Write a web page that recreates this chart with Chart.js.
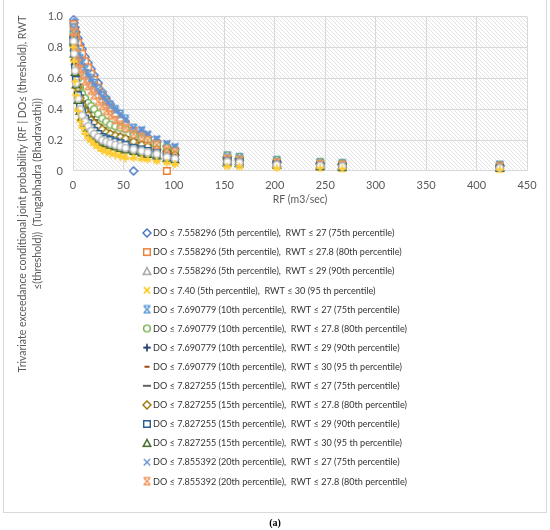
<!DOCTYPE html>
<html lang="en">
<head>
<meta charset="UTF-8">
<title>Trivariate exceedance conditional joint probability - Tungabhadra (Bhadravathi)</title>
<script src="https://cdn.jsdelivr.net/npm/chart.js"></script>
<style>
    body { margin: 0; background: #fff; }
    .wrap { width: 550px; height: 530px; position: relative; }
</style>
</head>
<body>
<div class="wrap"><canvas id="probChart"></canvas></div>
<script>
// RF values (m3/sec) shared by every series
const rf = [0.5, 1, 2, 3, 5, 7, 9, 12, 15, 18, 21, 25, 29, 33, 37, 42, 47, 52, 60, 68, 74, 83, 93, 101, 153, 165, 202, 245, 267, 423];

const prob1  = [0.98, 0.96, 0.93, 0.90, 0.86, 0.82, 0.79, 0.74, 0.70, 0.66, 0.62, 0.57, 0.51, 0.47, 0.43, 0.39, 0.35, 0.32, 0.00, 0.25, 0.22, 0.19, 0.16, 0.14, 0.09, 0.08, 0.06, 0.05, 0.045, 0.035];
const prob2  = [0.95, 0.93, 0.90, 0.87, 0.83, 0.79, 0.76, 0.71, 0.67, 0.63, 0.59, 0.54, 0.49, 0.45, 0.41, 0.37, 0.33, 0.30, 0.26, 0.23, 0.20, 0.18, 0.00, 0.13, 0.08, 0.07, 0.055, 0.045, 0.04, 0.03];
const prob3  = [0.87, 0.80, 0.71, 0.63, 0.53, 0.46, 0.42, 0.38, 0.35, 0.32, 0.30, 0.28, 0.26, 0.24, 0.23, 0.22, 0.21, 0.20, 0.18, 0.17, 0.15, 0.14, 0.12, 0.10, 0.07, 0.065, 0.05, 0.04, 0.035, 0.025];
const prob4  = [0.82, 0.73, 0.61, 0.52, 0.42, 0.35, 0.31, 0.27, 0.24, 0.21, 0.19, 0.17, 0.15, 0.14, 0.13, 0.12, 0.11, 0.10, 0.09, 0.085, 0.08, 0.07, 0.06, 0.05, 0.035, 0.03, 0.025, 0.02, 0.015, 0.01];
const prob5  = [0.93, 0.90, 0.86, 0.82, 0.77, 0.73, 0.70, 0.66, 0.63, 0.60, 0.57, 0.53, 0.49, 0.46, 0.43, 0.40, 0.37, 0.34, 0.28, 0.26, 0.23, 0.20, 0.17, 0.15, 0.10, 0.09, 0.07, 0.055, 0.05, 0.04];
const prob6  = [0.90, 0.85, 0.77, 0.70, 0.60, 0.54, 0.50, 0.47, 0.44, 0.42, 0.40, 0.37, 0.34, 0.32, 0.30, 0.29, 0.28, 0.27, 0.23, 0.21, 0.20, 0.17, 0.155, 0.13, 0.10, 0.09, 0.07, 0.06, 0.05, 0.04];
const prob7  = [0.86, 0.79, 0.69, 0.61, 0.51, 0.44, 0.40, 0.36, 0.33, 0.30, 0.28, 0.26, 0.24, 0.22, 0.21, 0.20, 0.19, 0.18, 0.16, 0.15, 0.14, 0.13, 0.11, 0.09, 0.07, 0.06, 0.05, 0.04, 0.03, 0.025];
const prob8  = [0.83, 0.75, 0.63, 0.55, 0.45, 0.38, 0.34, 0.30, 0.27, 0.24, 0.22, 0.20, 0.18, 0.17, 0.16, 0.15, 0.14, 0.13, 0.12, 0.11, 0.10, 0.09, 0.08, 0.07, 0.05, 0.045, 0.035, 0.03, 0.025, 0.015];
const prob9  = [0.88, 0.82, 0.74, 0.66, 0.56, 0.49, 0.45, 0.41, 0.38, 0.35, 0.33, 0.30, 0.28, 0.26, 0.25, 0.24, 0.23, 0.22, 0.20, 0.18, 0.17, 0.15, 0.13, 0.11, 0.08, 0.07, 0.06, 0.05, 0.04, 0.03];
const prob10 = [0.87, 0.81, 0.72, 0.64, 0.54, 0.47, 0.43, 0.39, 0.36, 0.33, 0.31, 0.29, 0.27, 0.25, 0.24, 0.23, 0.22, 0.21, 0.19, 0.17, 0.16, 0.14, 0.125, 0.105, 0.075, 0.07, 0.055, 0.045, 0.04, 0.03];
const prob11 = [0.85, 0.77, 0.67, 0.59, 0.49, 0.42, 0.38, 0.34, 0.31, 0.28, 0.26, 0.24, 0.22, 0.21, 0.20, 0.19, 0.18, 0.17, 0.15, 0.14, 0.13, 0.12, 0.10, 0.085, 0.065, 0.06, 0.045, 0.035, 0.03, 0.02];
const prob12 = [0.84, 0.76, 0.64, 0.56, 0.46, 0.39, 0.35, 0.31, 0.28, 0.25, 0.23, 0.21, 0.19, 0.18, 0.17, 0.16, 0.15, 0.14, 0.13, 0.12, 0.11, 0.10, 0.085, 0.075, 0.055, 0.05, 0.04, 0.03, 0.025, 0.02];
const prob13 = [0.92, 0.89, 0.84, 0.80, 0.75, 0.71, 0.68, 0.64, 0.61, 0.58, 0.55, 0.51, 0.48, 0.45, 0.42, 0.39, 0.36, 0.33, 0.28, 0.27, 0.24, 0.21, 0.18, 0.16, 0.10, 0.09, 0.07, 0.06, 0.05, 0.045];
const prob14 = [0.90, 0.86, 0.81, 0.76, 0.70, 0.66, 0.62, 0.58, 0.55, 0.52, 0.49, 0.45, 0.42, 0.39, 0.36, 0.33, 0.30, 0.28, 0.24, 0.22, 0.20, 0.17, 0.14, 0.12, 0.08, 0.07, 0.055, 0.045, 0.04, 0.03];
const prob15 = [0.84, 0.76, 0.65, 0.57, 0.47, 0.40, 0.36, 0.32, 0.29, 0.26, 0.24, 0.22, 0.20, 0.19, 0.18, 0.17, 0.16, 0.15, 0.14, 0.13, 0.12, 0.11, 0.09, 0.08, 0.06, 0.055, 0.04, 0.035, 0.03, 0.02];
const prob16 = [0.80, 0.71, 0.58, 0.49, 0.39, 0.32, 0.28, 0.24, 0.21, 0.19, 0.17, 0.15, 0.13, 0.12, 0.11, 0.10, 0.09, 0.08, 0.085, 0.08, 0.075, 0.065, 0.055, 0.045, 0.03, 0.03, 0.02, 0.02, 0.015, 0.01];

const seriesLabels = [
    'DO \u2264 7.558296 (5th percentile),  RWT \u2264 27 (75th percentile)',
    'DO \u2264 7.558296 (5th percentile),  RWT \u2264 27.8 (80th percentile)',
    'DO \u2264 7.558296 (5th percentile),  RWT \u2264 29 (90th percentile)',
    'DO \u2264 7.40 (5th percentile),  RWT \u2264 30 (95 th percentile)',
    'DO \u2264 7.690779 (10th percentile),  RWT \u2264 27 (75th percentile)',
    'DO \u2264 7.690779 (10th percentile),  RWT \u2264 27.8 (80th percentile)',
    'DO \u2264 7.690779 (10th percentile),  RWT \u2264 29 (90th percentile)',
    'DO \u2264 7.690779 (10th percentile),  RWT \u2264 30 (95 th percentile)',
    'DO \u2264 7.827255 (15th percentile),  RWT \u2264 27 (75th percentile)',
    'DO \u2264 7.827255 (15th percentile),  RWT \u2264 27.8 (80th percentile)',
    'DO \u2264 7.827255 (15th percentile),  RWT \u2264 29 (90th percentile)',
    'DO \u2264 7.827255 (15th percentile),  RWT \u2264 30 (95 th percentile)',
    'DO \u2264 7.855392 (20th percentile),  RWT \u2264 27 (75th percentile)',
    'DO \u2264 7.855392 (20th percentile),  RWT \u2264 27.8 (80th percentile)',
    'DO \u2264 7.855392 (20th percentile),  RWT \u2264 29 (90th percentile)',
    'DO \u2264 7.855392 (20th percentile),  RWT \u2264 30 (95 th percentile)'
];
const legendCount = 14; // the legend box in the original cuts off after 14 entries

const allProbs = [prob1, prob2, prob3, prob4, prob5, prob6, prob7, prob8,
                  prob9, prob10, prob11, prob12, prob13, prob14, prob15, prob16];

// Excel-like colours and markers
const colors = ['#4472C4', '#ED7D31', '#A5A5A5', '#FFC000', '#5B9BD5', '#70AD47', '#264478', '#9E480E',
                '#636363', '#997300', '#255E91', '#43682B', '#698ED0', '#F1975A', '#B7B7B7', '#FFCD33'];
const markers = ['diamond', 'square', 'triangle', 'x', 'xbar', 'circle', 'plus', 'dash',
                 'longdash', 'diamond', 'square', 'triangle', 'x', 'xbar', 'circle', 'plus'];

function makeMarker(kind, color) {
    const c = document.createElement('canvas');
    c.width = 10; c.height = 10;
    const g = c.getContext('2d');
    g.strokeStyle = color;
    g.fillStyle = '#fff';
    g.lineWidth = 1.4;
    g.beginPath();
    if (kind === 'diamond') {
        g.moveTo(5, 1); g.lineTo(9, 5); g.lineTo(5, 9); g.lineTo(1, 5); g.closePath();
        g.fill(); g.stroke();
    } else if (kind === 'square') {
        g.rect(1.7, 1.7, 6.6, 6.6); g.fill(); g.stroke();
    } else if (kind === 'triangle') {
        g.moveTo(5, 1.3); g.lineTo(8.8, 8.3); g.lineTo(1.2, 8.3); g.closePath();
        g.fill(); g.stroke();
    } else if (kind === 'circle') {
        g.arc(5, 5, 3.4, 0, Math.PI * 2); g.fill(); g.stroke();
    } else if (kind === 'x') {
        g.moveTo(1.8, 1.8); g.lineTo(8.2, 8.2); g.moveTo(8.2, 1.8); g.lineTo(1.8, 8.2); g.stroke();
    } else if (kind === 'xbar') {
        g.moveTo(2, 2); g.lineTo(8, 8); g.moveTo(8, 2); g.lineTo(2, 8);
        g.moveTo(1.5, 1.5); g.lineTo(8.5, 1.5); g.moveTo(1.5, 8.5); g.lineTo(8.5, 8.5); g.stroke();
    } else if (kind === 'plus') {
        g.lineWidth = 1.8;
        g.moveTo(5, 1.3); g.lineTo(5, 8.7); g.moveTo(1.3, 5); g.lineTo(8.7, 5); g.stroke();
    } else if (kind === 'dash') {
        g.fillStyle = color; g.fillRect(2.5, 4, 5, 2);
    } else if (kind === 'longdash') {
        g.fillStyle = color; g.fillRect(1, 4, 8, 2);
    }
    return c;
}

const markerImgs = markers.map((m, i) => makeMarker(m, colors[i]));

const datasets = allProbs.map((probs, i) => ({
    label: seriesLabels[i],
    data: rf.map((x, j) => ({ x: x, y: probs[j] })),
    pointStyle: markerImgs[i],
    borderColor: colors[i],
    backgroundColor: colors[i],
    showLine: false,
    clip: false,
    order: allProbs.length - i
}));

const xTicks = [0, 50, 100, 150, 200, 250, 300, 350, 400, 450];

const decorPlugin = {
    id: 'decor',
    beforeDraw(chart) {
        const ctx = chart.ctx;
        const a = chart.chartArea;
        ctx.save();
        ctx.fillStyle = '#fff';
        ctx.fillRect(0, 0, chart.width, chart.height);
        // diagonal hatch inside the plot area
        const tile = document.createElement('canvas');
        tile.width = 4; tile.height = 4;
        const t = tile.getContext('2d');
        t.strokeStyle = '#e2e2e2';
        t.lineWidth = 1;
        t.beginPath(); t.moveTo(0, 0); t.lineTo(4, 4); t.moveTo(-1, 3); t.lineTo(1, 5); t.moveTo(3, -1); t.lineTo(5, 1); t.stroke();
        ctx.fillStyle = ctx.createPattern(tile, 'repeat');
        ctx.fillRect(a.left, a.top, a.right - a.left, a.bottom - a.top);
        ctx.restore();
    },
    afterDraw(chart) {
        const ctx = chart.ctx;
        const a = chart.chartArea;
        ctx.save();
        // outer frame
        ctx.strokeStyle = '#d9d9d9';
        ctx.lineWidth = 1;
        ctx.strokeRect(3.5, -1, 543, 513.5);

        // axis titles
        ctx.fillStyle = '#595959';
        ctx.font = '10.5px Lato, "Open Sans", sans-serif';
        ctx.textAlign = 'center';
        ctx.textBaseline = 'middle';
        ctx.fillText('RF (m3/sec)', (a.left + a.right) / 2, 200);

        ctx.save();
        ctx.translate(23, 194);
        ctx.rotate(-Math.PI / 2);
        ctx.fillText('Trivariate exceedance conditional joint probability (RF | DO\u2264 (threshold), RWT', 0, 0);
        ctx.fillText('\u2264(threshold))  (Tungabhadra (Bhadravathi))', 0, 15);
        ctx.restore();

        // legend (text slightly condensed to match the narrow original face)
        ctx.textAlign = 'left';
        ctx.fillStyle = '#333';
        ctx.font = '10px Lato, "Open Sans", sans-serif';
        for (let i = 0; i < legendCount; i++) {
            const y = 233 + i * 19.1;
            const img = markerImgs[i];
            ctx.drawImage(img, 147 - img.width / 2, y - img.height / 2);
            ctx.save();
            ctx.translate(153, y);
            ctx.scale(0.91, 1);
            ctx.fillText(seriesLabels[i], 0, 0);
            ctx.restore();
        }

        // panel label
        ctx.fillStyle = '#000';
        ctx.font = 'bold 10px "Liberation Serif", serif';
        ctx.textAlign = 'center';
        ctx.fillText('(a)', 275, 523);
        ctx.restore();
    }
};

new Chart(document.getElementById('probChart'), {
    type: 'scatter',
    data: { datasets: datasets },
    plugins: [decorPlugin],
    options: {
        responsive: true,
        maintainAspectRatio: false,
        animation: false,
        layout: { padding: { top: 16, right: 23, left: 0, bottom: 0 } },
        plugins: { legend: { display: false }, tooltip: { enabled: false } },
        scales: {
            x: {
                type: 'linear',
                min: 0,
                max: 450,
                afterFit: (s) => { s.height = 359; },
                afterBuildTicks: (s) => { s.ticks = xTicks.map(v => ({ value: v })); },
                grid: { color: '#d9d9d9', drawTicks: false },
                border: { color: '#d9d9d9' },
                ticks: { padding: 8, color: '#595959', font: { family: 'Lato', size: 11 } }
            },
            y: {
                min: 0,
                max: 1,
                afterFit: (s) => { s.width = 73; },
                grid: { color: '#d9d9d9', drawTicks: false },
                border: { display: false },
                ticks: { stepSize: 0.1, padding: 10, color: '#595959', font: { family: 'Lato', size: 11 } }
            }
        }
    }
});
</script>
</body>
</html>
